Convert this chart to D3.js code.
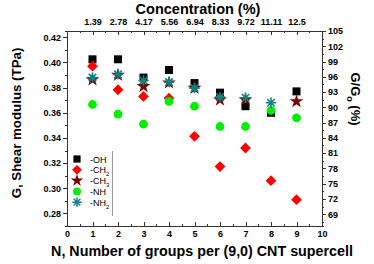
<!DOCTYPE html>
<html>
<head>
<meta charset="utf-8">
<script src="https://d3js.org/d3.v7.min.js"></script>
<style>
  body { margin: 0; padding: 0; background: #fff; }
  svg { display: block; font-family: "Liberation Sans", Arial, sans-serif; }
  .tick text { font-weight: bold; font-size: 9px; fill: #000; }
  .axis path, .axis line { stroke: #333; stroke-width: 1; fill: none; shape-rendering: crispEdges; }
  .title { font-weight: bold; font-size: 12.5px; fill: #000; }
  .legend text { font-size: 9px; fill: #000; }
</style>
</head>
<body>
<script>
// values
var groups = [1, 2, 3, 4, 5, 6, 7, 8, 9];
var concLabels = ["1.39", "2.78", "4.17", "5.56", "6.94", "8.33", "9.72", "11.11", "12.5"];

var ohVals  = [0.4025, 0.4025, 0.388, 0.394, 0.3836, 0.376, 0.3652, 0.360, 0.377];
var ch2Vals = [0.397, 0.3783, 0.373, 0.3716, 0.3413, 0.3172, 0.332, 0.306, 0.2909];
var ch3Vals = [0.3863, 0.390, 0.381, 0.3839, 0.3796, 0.3703, 0.3703, null, 0.369];
var nhVals  = [0.3666, 0.3589, 0.3509, 0.369, 0.3652, 0.3491, 0.3491, 0.3618, 0.356];
var nh2Vals = [0.3879, 0.3905, 0.3857, 0.3844, 0.3796, 0.3724, 0.3719, 0.368, null];

var leftTicks = [0.28, 0.30, 0.32, 0.34, 0.36, 0.38, 0.40, 0.42];
var rightTicks = [69, 72, 75, 78, 81, 84, 87, 90, 93, 96, 99, 102, 105];

var W = 374, H = 264;
var svg = d3.select("body").append("svg").attr("width", W).attr("height", H);

var x = d3.scaleLinear().domain([0, 10]).range([67, 322]);
var yL = d3.scaleLinear().domain([0.27, 0.425]).range([226, 31]);
var yR = d3.scaleLinear().domain([66.67, 105]).range([226, 31]);

function minors(step, lo, hi) {
  var out = [];
  for (var v = lo; v <= hi + 1e-9; v += step) out.push(+v.toFixed(4));
  return out;
}

// minor ticks first
svg.append("g").attr("class", "axis").attr("transform", "translate(67,0)")
  .call(d3.axisLeft(yL).tickValues(minors(0.01, 0.27, 0.42)).tickSize(2).tickFormat(""));
svg.append("g").attr("class", "axis").attr("transform", "translate(322,0)")
  .call(d3.axisRight(yR).tickValues(minors(1.5, 67.5, 105)).tickSize(2).tickFormat(""));
svg.append("g").attr("class", "axis").attr("transform", "translate(0,226)")
  .call(d3.axisTop(x).tickValues(minors(0.5, 0, 10)).tickSize(2).tickFormat(""));
svg.append("g").attr("class", "axis").attr("transform", "translate(0,31)")
  .call(d3.axisBottom(x).tickValues(minors(0.5, 0, 10)).tickSize(2).tickFormat(""));

// major axes
svg.append("g").attr("class", "axis").attr("transform", "translate(67,0)")
  .call(d3.axisLeft(yL).tickValues(leftTicks).tickSize(4).tickSizeOuter(0).tickPadding(2).tickFormat(d3.format(".2f")));
svg.append("g").attr("class", "axis").attr("transform", "translate(322,0)")
  .call(d3.axisRight(yR).tickValues(rightTicks).tickSize(4).tickSizeOuter(0).tickPadding(2));

svg.append("g").attr("class", "axis").attr("transform", "translate(0,226)")
  .call(d3.axisBottom(x).tickValues(d3.range(0, 11)).tickSize(0).tickSizeOuter(0).tickPadding(5));
svg.append("g").attr("class", "axis").attr("transform", "translate(0,226)")
  .call(d3.axisTop(x).tickValues(d3.range(0, 11)).tickSize(4).tickSizeOuter(0).tickFormat(""));
svg.append("g").attr("class", "axis").attr("transform", "translate(0,31)")
  .call(d3.axisBottom(x).tickValues(groups).tickSize(4).tickSizeOuter(0).tickFormat(""));
svg.append("g").attr("class", "axis").attr("transform", "translate(0,31)")
  .call(d3.axisTop(x).tickValues(groups).tickSize(0).tickSizeOuter(0).tickPadding(6)
    .tickFormat(function (d, i) { return concLabels[i]; }))
  .select(".domain").remove();

// titles
svg.append("text").attr("class", "title").attr("x", 198).attr("y", 14)
  .attr("text-anchor", "middle").style("font-size", "14.5px").text("Concentration (%)");
svg.append("text").attr("class", "title").attr("x", 202).attr("y", 256)
  .attr("text-anchor", "middle").style("font-size", "14.3px")
  .text("N, Number of groups per (9,0) CNT supercell");
svg.append("text").attr("class", "title")
  .attr("transform", "translate(21,123) rotate(-90)").style("font-size", "13.3px")
  .attr("text-anchor", "middle").text("G, Shear modulus (TPa)");
var rt = svg.append("text").attr("class", "title")
  .attr("transform", "translate(351,99) rotate(90)").style("font-size", "13px")
  .attr("text-anchor", "middle");
rt.append("tspan").text("G/G");
rt.append("tspan").attr("dy", 4).style("font-size", "9px").text("o");
rt.append("tspan").attr("dy", -4).text(" (%)");

// symbols
var square = d3.symbol().type(d3.symbolSquare).size(64);
var diamond = d3.symbol().type(d3.symbolSquare).size(58);
var star = d3.symbol().type(d3.symbolStar).size(60);
var circle = d3.symbol().type(d3.symbolCircle).size(60);
function asterisk(r) {
  var d = r * 0.72;
  return "M" + (-r) + ",0L" + r + ",0M0," + (-r) + "L0," + r +
    "M" + (-d) + "," + (-d) + "L" + d + "," + d + "M" + (-d) + "," + d + "L" + d + "," + (-d);
}

var series = [
  { name: "-OH", sub: "", vals: ohVals, kind: "square", color: "#000000" },
  { name: "-CH", sub: "2", vals: ch2Vals, kind: "diamond", color: "#ff0000" },
  { name: "-CH", sub: "3", vals: ch3Vals, kind: "star", color: "#800000" },
  { name: "-NH", sub: "", vals: nhVals, kind: "circle", color: "#00ee00" },
  { name: "-NH", sub: "2", vals: nh2Vals, kind: "asterisk", color: "#108080" }
];

function drawMark(g, kind, color) {
  if (kind === "asterisk") {
    g.append("path").attr("d", asterisk(5.2)).attr("fill", "none")
      .attr("stroke", color).attr("stroke-width", 1.6);
  } else {
    var gen = { square: square, diamond: diamond, star: star, circle: circle }[kind];
    g.append("path").attr("d", gen()).attr("fill", color)
      .attr("transform", kind === "diamond" ? "rotate(45)" : null);
  }
}

series.forEach(function (s) {
  var pts = groups.map(function (n, i) { return { n: n, v: s.vals[i] }; })
    .filter(function (p) { return p.v != null; });
  svg.append("g").selectAll("g").data(pts).enter().append("g")
    .attr("transform", function (p) { return "translate(" + x(p.n) + "," + yL(p.v) + ")"; })
    .each(function () { drawMark(d3.select(this), s.kind, s.color); });
});

// legend
var lg = svg.append("g").attr("class", "legend");
series.forEach(function (s, i) {
  var row = lg.append("g").attr("transform", "translate(77," + (159 + i * 10.8) + ")");
  var m = row.append("g").attr("transform", "scale(0.9)");
  drawMark(m, s.kind, s.color);
  var t = row.append("text").attr("x", 13).attr("y", 3.5);
  t.append("tspan").text(s.name);
  if (s.sub) t.append("tspan").attr("dy", 3).style("font-size", "6px").text(s.sub);
});
lg.append("line").attr("x1", 112.5).attr("x2", 112.5).attr("y1", 151).attr("y2", 216)
  .attr("stroke", "#999").attr("stroke-width", 1);
</script>
</body>
</html>
